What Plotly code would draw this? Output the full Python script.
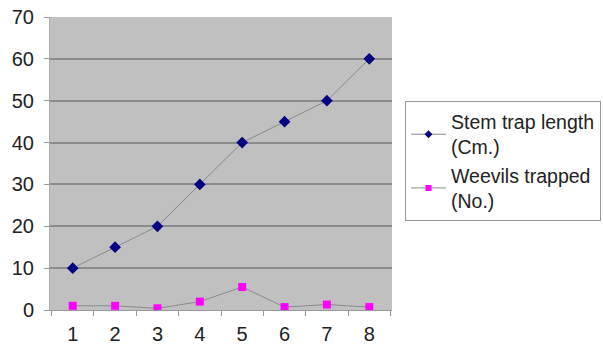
import plotly.graph_objects as go

# Trap positions and measurements
positions = ["1", "2", "3", "4", "5", "6", "7", "8"]
stem_trap_length = [10, 15, 20, 30, 40, 45, 50, 60]
weevils_trapped = [1, 1, 0.4, 2, 5.5, 0.7, 1.3, 0.7]

series = [
    ("Stem trap length<br>(Cm.)", stem_trap_length, "diamond", 9, 6, "#000080"),
    ("Weevils trapped<br>(No.)", weevils_trapped, "square", 8, 6, "#FF00FF"),
]

fig = go.Figure()
for name, values, symbol, size, legend_size, color in series:
    # data trace
    fig.add_trace(go.Scatter(
        x=positions, y=values, mode="lines+markers", name=name,
        showlegend=False,
        line=dict(color="#8a8a8a", width=1),
        marker=dict(symbol=symbol, size=size, color=color),
    ))
    # legend entry with a smaller key marker
    fig.add_trace(go.Scatter(
        x=[None], y=[None], mode="lines+markers", name=name,
        line=dict(color="#8a8a8a", width=1),
        marker=dict(symbol=symbol, size=legend_size, color=color),
    ))

fig.update_layout(
    width=603, height=352,
    margin=dict(l=50, r=211, t=17, b=42, autoexpand=False),
    paper_bgcolor="white",
    plot_bgcolor="#C0C0C0",
    font=dict(family="Liberation Sans, Arial, sans-serif", size=20, color="#222"),
    showlegend=True,
    legend=dict(
        x=1.038, y=0.712, xanchor="left", yanchor="top",
        bordercolor="#999", borderwidth=1, bgcolor="white",
        font=dict(size=19.5, color="#222"),
        itemwidth=35,
    ),
    xaxis=dict(
        type="category", tickson="boundaries",
        ticks="outside", ticklen=5, tickcolor="#999",
        showline=True, linecolor="#999", linewidth=1,
        showgrid=False, automargin=False,
        ticklabelstandoff=6,
        tickfont=dict(size=20),
    ),
    yaxis=dict(
        range=[0, 70], dtick=10,
        ticks="outside", ticklen=5, tickcolor="#999",
        showline=True, linecolor="#aaa", linewidth=1,
        showgrid=True, gridcolor="#8c8c8c", gridwidth=1.5,
        zeroline=False, automargin=False,
        ticklabelstandoff=6,
        tickfont=dict(size=20),
    ),
)

fig.write_html("out.html")
